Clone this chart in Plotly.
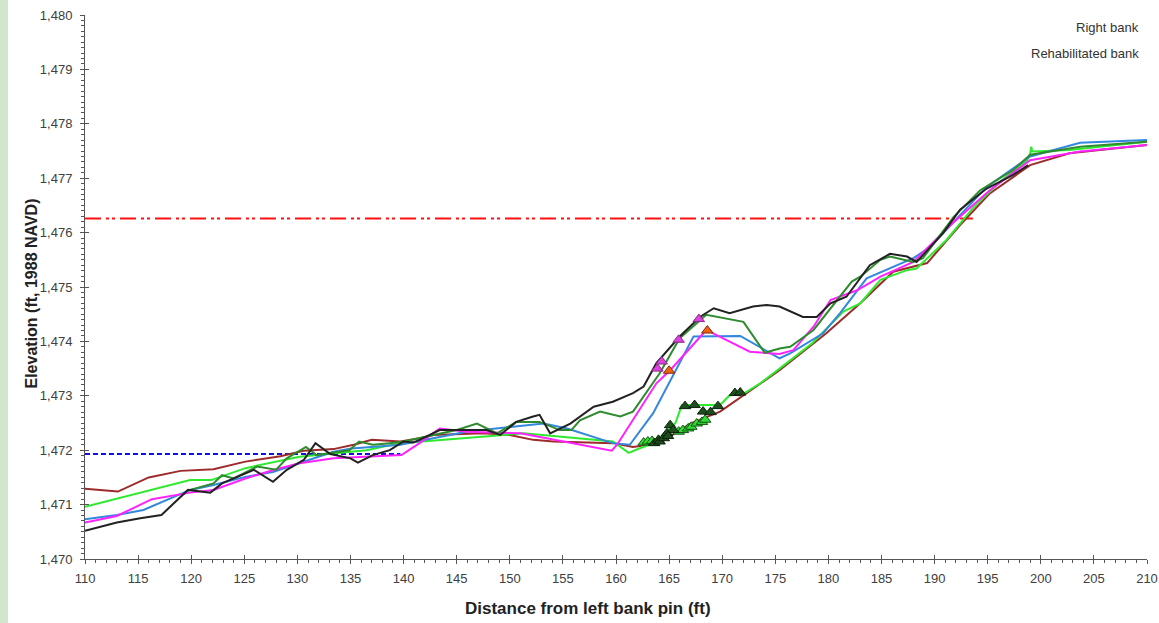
import plotly.graph_objects as go

# ---------------- data ----------------
brown_x = [110, 113.1, 116, 119, 122.1, 125.1, 128.4, 130.6, 133.4, 135.3, 137, 139.7, 141.5, 142.8, 147.5,
           150, 152.2, 154.1, 159.7, 161.6, 164.1, 167, 169.8, 172.3, 175.4, 179.8, 183, 186.1, 189.3,
           192.4, 195.2, 199, 202.7, 210]
brown_y = [1471.29, 1471.24, 1471.5, 1471.62, 1471.65, 1471.79, 1471.89, 1471.99, 1472.02, 1472.1, 1472.19,
           1472.16, 1472.22, 1472.28, 1472.31, 1472.28, 1472.19, 1472.16, 1472.13, 1472.06, 1472.13, 1472.49,
           1472.71, 1473.05, 1473.47, 1474.15, 1474.7, 1475.28, 1475.44, 1476.14, 1476.72, 1477.24,
           1477.46, 1477.61]

lime_x = [110, 119.9, 121.9, 125.1, 130.2, 136.5, 139.7, 149.1, 151.3, 159.7, 161.2, 162.3, 163.5, 165.6,
          166.2, 169.8, 170.7, 172.1, 173.6, 175.4, 178.5, 181.4, 183, 184.9, 187.4, 188.3, 191.1, 193.6,
          196.2, 198.7, 199.0, 199.1, 199.2, 202.7, 210]
lime_y = [1470.96, 1471.45, 1471.45, 1471.67, 1471.88, 1472.0, 1472.13, 1472.28, 1472.31, 1472.16, 1471.95,
          1472.04, 1472.12, 1472.5, 1472.83, 1472.83, 1473.01, 1473.05, 1473.23, 1473.5, 1473.97, 1474.55,
          1474.7, 1475.13, 1475.31, 1475.34, 1475.86, 1476.45, 1476.94, 1477.33, 1477.45, 1477.58,
          1477.49, 1477.52, 1477.67]

blue_x = [110, 113, 115.5, 117.7, 119.9, 122.1, 125.1, 127.7, 130.2, 133.4, 135.1, 139.7, 145.9, 150,
          153.2, 155.4, 159.7, 161.3, 163.5, 167.3, 171.7, 175.4, 176.4, 179.5, 181.1, 183.6, 185.8, 188,
          189.6, 191.8, 194.9, 199, 203.7, 210]
blue_y = [1470.73, 1470.81, 1470.9, 1471.08, 1471.27, 1471.36, 1471.51, 1471.6, 1471.76, 1471.97, 1472.03,
          1472.1, 1472.34, 1472.43, 1472.49, 1472.4, 1472.13, 1472.1, 1472.68, 1474.09, 1474.1, 1473.69,
          1473.78, 1474.15, 1474.52, 1475.16, 1475.34, 1475.53, 1475.74, 1476.2, 1476.84, 1477.4,
          1477.65, 1477.7]

magenta_x = [110, 113, 116.3, 117.7, 119.9, 122.1, 125.1, 128, 130.2, 133.4, 136.5, 139.8, 141.5, 143.4,
             145.9, 151, 159.6, 160.1, 163.8, 165.1, 168.5, 172.6, 175.4, 176.7, 178.6, 180.2, 182.7,
             184.9, 188, 191.5, 195.2, 199, 203.7, 210]
magenta_y = [1470.67, 1470.79, 1471.1, 1471.15, 1471.22, 1471.27, 1471.48, 1471.65, 1471.76, 1471.85,
             1471.88, 1471.91, 1472.13, 1472.4, 1472.34, 1472.31, 1471.99, 1472.1, 1473.23, 1473.47,
             1474.21, 1473.81, 1473.77, 1473.84, 1474.27, 1474.76, 1474.94, 1475.19, 1475.46, 1476.14,
             1476.78, 1477.33, 1477.49, 1477.61]

dkgreen_x = [119.9, 122.1, 122.9, 124, 126.2, 128, 129, 130.8, 131.8, 134.9, 135.8, 137.1, 138.7, 140, 145,
             146.9, 148.8, 150.6, 152.8, 154.7, 155.8, 156.6, 158.5, 160.4, 161.6, 164.1, 166, 168.5, 172,
             174, 175.4, 176.4, 178.6, 182.2, 183, 184.9, 185.8, 188, 188.9, 191.8, 194.3, 197.4, 199,
             203.7, 210]
dkgreen_y = [1471.27, 1471.39, 1471.54, 1471.48, 1471.7, 1471.64, 1471.85, 1472.06, 1471.91, 1472.0, 1472.16,
             1472.1, 1472.13, 1472.16, 1472.37, 1472.49, 1472.31, 1472.52, 1472.52, 1472.37, 1472.37,
             1472.55, 1472.71, 1472.62, 1472.71, 1473.41, 1474.06, 1474.49, 1474.36, 1473.79, 1473.87,
             1473.9, 1474.21, 1475.1, 1475.19, 1475.5, 1475.56, 1475.46, 1475.53, 1476.29, 1476.78,
             1477.15, 1477.43, 1477.58, 1477.67]

black_x = [110, 113, 115.2, 117.2, 119.7, 120.8, 121.8, 122.9, 125.1, 125.9, 127.7, 129, 130.6, 131.7, 133.1,
           135, 135.7, 137.1, 138.7, 140, 140.9, 141.5, 143.4, 145.9, 147.8, 149.1, 150.6, 152.2, 152.8,
           153.8, 155.7, 157.9, 159.7, 161.6, 162.6, 163.8, 166, 167.9, 169.2, 170.7, 172.9, 174.2, 175.4,
           177.6, 178.9, 180.2, 181.7, 183.9, 185.8, 187.4, 188.3, 190.8, 192.4, 194.9, 197.4, 198.8]
black_y = [1470.52, 1470.67, 1470.75, 1470.81, 1471.27, 1471.24, 1471.22, 1471.39, 1471.58, 1471.64, 1471.42,
           1471.64, 1471.82, 1472.13, 1471.93, 1471.85, 1471.77, 1471.91, 1472.0, 1472.16, 1472.14,
           1472.19, 1472.37, 1472.37, 1472.37, 1472.28, 1472.52, 1472.62, 1472.65, 1472.31, 1472.49,
           1472.8, 1472.89, 1473.05, 1473.17, 1473.6, 1474.09, 1474.45, 1474.61, 1474.52, 1474.64,
           1474.67, 1474.64, 1474.45, 1474.45, 1474.7, 1474.82, 1475.4, 1475.61, 1475.56, 1475.46,
           1475.99, 1476.42, 1476.81, 1477.06, 1477.24]

# marker points
pink_tri_x = [163.9, 164.3, 165.9, 167.8]
pink_tri_y = [1473.5, 1473.63, 1474.03, 1474.41]
orange_tri_x = [165.0, 168.6]
orange_tri_y = [1473.46, 1474.2]
dark_tri_x = [166.5, 167.4, 168.2, 168.9, 169.6, 171.2, 171.7,
              163.6, 164.0, 164.1, 164.5, 164.8, 165.1, 165.4, 164.9]
dark_tri_y = [1472.81, 1472.83, 1472.71, 1472.70, 1472.81, 1473.05, 1473.06,
              1472.13, 1472.19, 1472.16, 1472.22, 1472.31, 1472.46, 1472.37, 1472.26]
light_tri_x = [162.6, 163.0, 163.4, 165.9, 166.3, 166.8, 167.1, 167.6, 168.1, 168.4]
light_tri_y = [1472.14, 1472.16, 1472.17, 1472.34, 1472.37, 1472.40, 1472.43, 1472.49, 1472.52, 1472.56]

red_ref_x = [110, 193.6]
red_ref_y = [1476.26, 1476.26]
blue_ref_x = [110, 139.7]
blue_ref_y = [1471.93, 1471.93]

legend_labels = ["Right bank", "Rehabilitated bank"]

# ---------------- figure ----------------
fig = go.Figure()

def line(x, y, color, width=2, dash="solid"):
    fig.add_trace(go.Scatter(x=x, y=y, mode="lines", showlegend=False, hoverinfo="skip",
                             line=dict(color=color, width=width, dash=dash)))

line(red_ref_x, red_ref_y, "#FF1010", 2, "16px,5px,3px,3px,3px,5px")
line(blue_ref_x, blue_ref_y, "#1010E0", 2, "5px,3px")
line(brown_x, brown_y, "#9E2B2B")
line(lime_x, lime_y, "#2EEA2E")
line(blue_x, blue_y, "#3388DD")
line(magenta_x, magenta_y, "#FF22FF")
line(dkgreen_x, dkgreen_y, "#2E8B2E")
line(black_x, black_y, "#222222")

def markers(x, y, fill, edge):
    fig.add_trace(go.Scatter(x=x, y=y, mode="markers", showlegend=False, hoverinfo="skip",
                             marker=dict(symbol="triangle-up", size=10, color=fill,
                                         line=dict(color=edge, width=1))))

markers(light_tri_x, light_tri_y, "#33DD33", "#145214")
markers(dark_tri_x, dark_tri_y, "#1E4D1E", "#0A200A")
markers(pink_tri_x, pink_tri_y, "#E040E0", "#803080")
markers(orange_tri_x, orange_tri_y, "#F06010", "#803010")

# dummy trace for overlay axes (inner half of crossing major ticks)
fig.add_trace(go.Scatter(x=[None], y=[None], xaxis="x2", yaxis="y2", showlegend=False, hoverinfo="skip"))

FONT = "Liberation Sans, Arial, sans-serif"
tickfont = dict(family=FONT, size=13, color="#404040")
axcol = "#555555"

fig.update_layout(
    width=1159, height=623, autosize=False,
    margin=dict(l=85, r=12, t=15, b=64, autoexpand=False),
    paper_bgcolor="white", plot_bgcolor="white",
    xaxis=dict(range=[110, 210], dtick=5, tick0=110, showgrid=False, zeroline=False, automargin=False,
               showline=True, linecolor=axcol, linewidth=1, ticklabelstandoff=3,
               ticks="outside", ticklen=4, tickcolor=axcol, tickwidth=1, tickfont=tickfont,
               minor=dict(dtick=1, ticks="outside", ticklen=3, tickcolor=axcol, showgrid=False)),
    yaxis=dict(range=[1470, 1480], dtick=1, showgrid=False, zeroline=False, tickformat=",d", automargin=False,
               showline=True, linecolor=axcol, linewidth=1, ticklabelstandoff=5,
               ticks="outside", ticklen=4, tickcolor=axcol, tickwidth=1, tickfont=tickfont,
               minor=dict(dtick=0.1, ticks="outside", ticklen=3, tickcolor=axcol, showgrid=False)),
    xaxis2=dict(overlaying="x", matches="x", anchor="y", showgrid=False, zeroline=False, automargin=False,
                showline=False, showticklabels=False, ticks="inside", ticklen=4,
                tickcolor=axcol, dtick=5, tick0=110, side="bottom"),
    yaxis2=dict(overlaying="y", matches="y", anchor="x", showgrid=False, zeroline=False, automargin=False,
                showline=False, showticklabels=False, ticks="inside", ticklen=4,
                tickcolor=axcol, dtick=1, side="left"),
    showlegend=False,
)

# light green strip at left edge
fig.add_shape(type="rect", xref="paper", yref="paper", x0=-85/1062, x1=-77/1062, y0=-64/544, y1=(544+15)/544,
              fillcolor="#D2E6CE", line=dict(width=0), layer="below")

# axis titles
fig.add_annotation(text="<b>Elevation (ft, 1988 NAVD)</b>", xref="paper", yref="paper",
                   x=(20-85)/1062, y=(559-391)/544, textangle=-90, showarrow=False,
                   font=dict(family=FONT, size=16, color="#222222"))
fig.add_annotation(text="<b>Distance from left bank pin (ft)</b>", xref="paper", yref="paper",
                   x=(588-85)/1062, y=-(608-559)/544, showarrow=False, yanchor="middle",
                   font=dict(family=FONT, size=17, color="#222222"))

# legend texts
for lab, py in zip(legend_labels, [27, 54]):
    fig.add_annotation(text=lab, xref="paper", yref="paper", x=(1141-85)/1062, y=(559-py)/544,
                       xanchor="right", yanchor="middle", showarrow=False,
                       font=dict(family=FONT, size=13, color="#333333"))

fig.write_html("out.html")
